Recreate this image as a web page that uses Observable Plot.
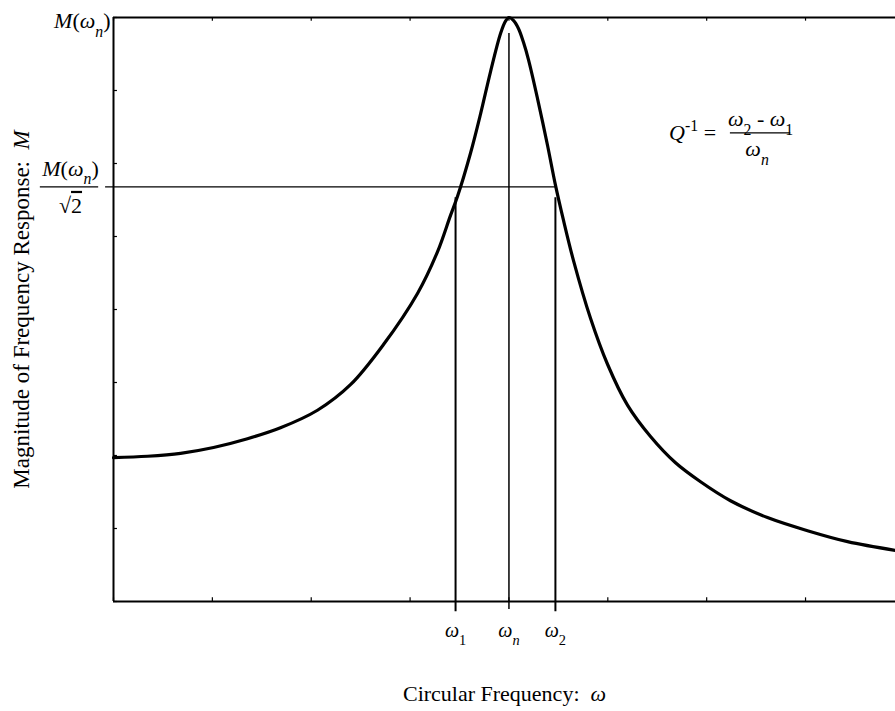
<!DOCTYPE html>
<html><head><meta charset="utf-8">
<script src="https://cdn.jsdelivr.net/npm/d3@7"></script>
<script src="https://cdn.jsdelivr.net/npm/@observablehq/plot@0.6"></script>
<style>body{margin:0;background:#fff} svg{display:block}</style>
</head><body><div id="chart"></div>
<script>
// Frequency (axis units) and magnitude (axis units; peak = 8)
const freq = [0, 0.344, 0.678, 1.012, 1.355, 1.689, 2.063, 2.397, 2.731, 3.075, 3.277, 3.409, 3.480, 3.611, 3.713, 3.814, 3.915, 3.965, 4.000, 4.045, 4.096, 4.147, 4.198, 4.289, 4.390, 4.471, 4.552, 4.653, 4.825, 4.997, 5.199, 5.432, 5.685, 5.938, 6.241, 6.615, 7.020, 7.425, 7.910];
const mag  = [1.97, 1.99, 2.03, 2.11, 2.23, 2.38, 2.62, 2.97, 3.52, 4.22, 4.79, 5.29, 5.55, 6.14, 6.68, 7.26, 7.78, 7.95, 8.00, 7.96, 7.85, 7.66, 7.42, 6.89, 6.25, 5.70, 5.22, 4.67, 3.88, 3.25, 2.69, 2.26, 1.90, 1.64, 1.38, 1.15, 0.97, 0.82, 0.70];
const xTicks = [0, 1, 2, 3, 4, 5, 6, 7];
const yTicks = [0, 1, 2, 3, 4, 5, 6, 7, 8];
const peakM = 8;
const halfM = 5.68;
const markerNames = ["*ω*_{1}", "*ω*_{n}", "*ω*_{2}"];
const markerX = [3.46, 4.0, 4.47];
const markerTop = [5.53, 7.78, 5.53];
const xMax = 7.91;
const yTitle = "Magnitude of Frequency Response:\u00a0 *M*";
const xTitle = "Circular Frequency:\u00a0 *ω*";

const curve = freq.map((f, i) => ({f, m: mag[i]}));
const markers = markerNames.map((n, i) => ({name: n, x: markerX[i], top: markerTop[i]}));

const font = "Liberation Serif, Times New Roman, serif";
const chart = Plot.plot({
  width: 895, height: 711,
  marginLeft: 113, marginRight: 0, marginTop: 17, marginBottom: 110,
  x: {domain: [0, xMax], axis: null},
  y: {domain: [0, peakM], axis: null},
  style: {fontFamily: font, fontSize: "22px", background: "white", color: "black"},
  marks: [
    Plot.ruleY([0, peakM], {x1: 0, x2: xMax, stroke: "black", strokeWidth: 2}),
    Plot.ruleX([0], {y1: 0, y2: peakM, stroke: "black", strokeWidth: 2}),
    Plot.ruleY(yTicks, {x1: 0, x2: 0.04, stroke: "black", strokeWidth: 1.2}),
    Plot.ruleX(xTicks, {y1: 0, y2: 0.05, stroke: "black", strokeWidth: 1.2}),
    Plot.ruleX(xTicks, {y1: peakM, y2: peakM - 0.05, stroke: "black", strokeWidth: 1.2}),
    // half-power line and fraction bar of its label
    Plot.ruleY([halfM], {x1: -0.08, x2: markerX[2], stroke: "black", strokeWidth: 1.4}),
    Plot.ruleY([halfM], {x1: -0.74, x2: -0.15, stroke: "black", strokeWidth: 1.4}),
    // marker verticals
    Plot.ruleX([markers[0], markers[2]], {x: "x", y1: -0.14, y2: "top", stroke: "black", strokeWidth: 2}),
    Plot.ruleX([markers[1]], {x: "x", y1: -0.11, y2: "top", stroke: "black", strokeWidth: 1.5}),
    // response curve
    Plot.line(curve, {x: "f", y: "m", curve: "catmull-rom", stroke: "black", strokeWidth: 3.2}),
    // marker labels
    Plot.text(markers, {x: "x", y: -0.40, text: "name", fontSize: 20, textAnchor: "middle"}),
    // y labels
    Plot.text(["*M*(*ω*_{n})"], {x: -0.03, y: 7.95, text: d => d, textAnchor: "end"}),
    Plot.text(["*M*(*ω*_{n})"], {x: -0.435, y: 5.93, text: d => d}),
    Plot.text(["√~{2}"], {x: -0.435, y: 5.42, text: d => d}),
    // axis titles
    Plot.text([yTitle], {x: -0.93, y: peakM / 2, text: d => d, rotate: -90, fontSize: 23}),
    Plot.text([xTitle], {x: xMax / 2, y: -1.26, text: d => d}),
    // Q formula
    Plot.text(["*Q*^{-1} ="], {x: 5.62, y: 6.42, text: d => d, textAnchor: "start"}),
    Plot.text(["*ω*_{2} - *ω*_{1}"], {x: 6.545, y: 6.61, text: d => d}),
    Plot.ruleY([6.42], {x1: 6.24, x2: 6.85, stroke: "black", strokeWidth: 1.3}),
    Plot.text(["*ω*_{n}"], {x: 6.51, y: 6.20, text: d => d})
  ]
});
document.getElementById("chart").appendChild(chart);

// Turns *italic*, _{sub}, ^{sup} and ~{overline} markup into tspans
function richify(root) {
  const NS = "http://www.w3.org/2000/svg";
  root.querySelectorAll("text").forEach(t => {
    const s = t.textContent;
    if (!/[*_^~]/.test(s)) return;
    const fs = parseFloat(getComputedStyle(t).fontSize) || 16;
    while (t.firstChild) t.removeChild(t.firstChild);
    const re = /\*|([_^~])\{([^}]*)\}|[^*_^~]+/g;
    let italic = false, shift = 0, m;
    while ((m = re.exec(s))) {
      if (m[0] === "*") { italic = !italic; continue; }
      const ts = document.createElementNS(NS, "tspan");
      let txt = m[0], target = 0, it = italic;
      if (m[1]) {
        txt = m[2];
        if (m[1] === "_") { target = 0.4 * fs; ts.setAttribute("font-size", 0.72 * fs); it = /[a-z]/i.test(txt); }
        else if (m[1] === "^") { target = -0.4 * fs; ts.setAttribute("font-size", 0.72 * fs); }
        else { ts.setAttribute("text-decoration", "overline"); }
      }
      const dy = target - shift;
      if (dy) ts.setAttribute("dy", dy);
      shift = target;
      if (it) ts.setAttribute("font-style", "italic");
      ts.textContent = txt;
      t.appendChild(ts);
    }
  });
}
richify(chart);
</script>
</body></html>
